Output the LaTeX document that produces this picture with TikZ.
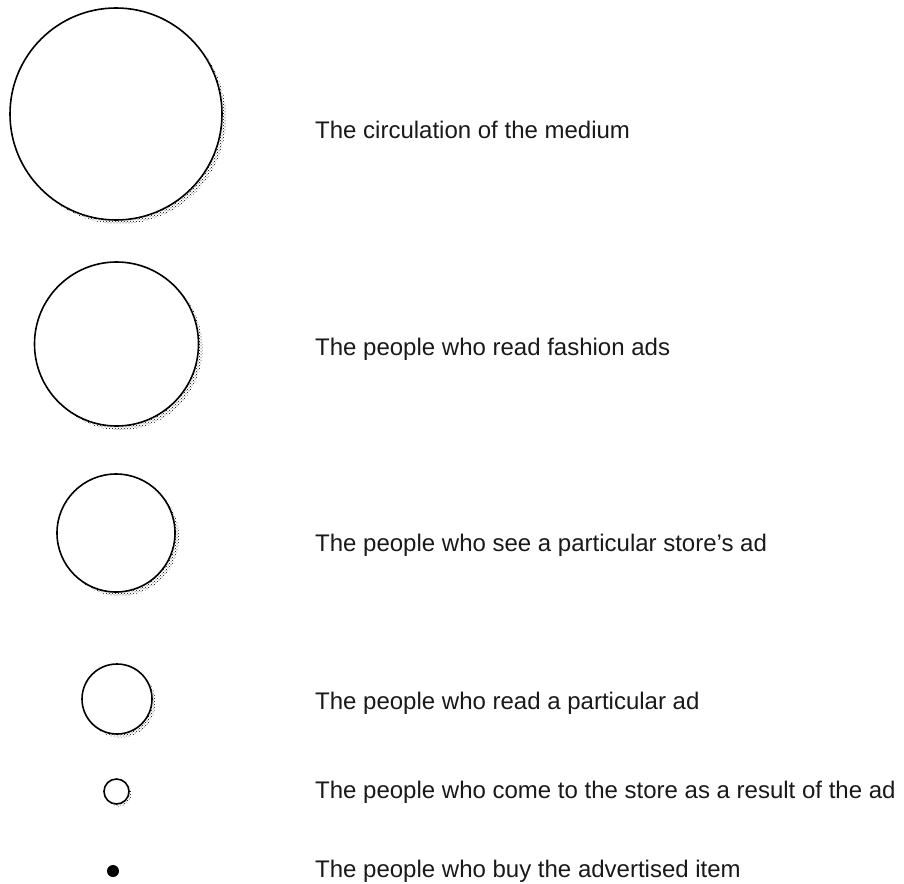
\documentclass[tikz,border=0pt]{standalone}
\usepackage{fontspec}
\setmainfont{Liberation Sans}
\usetikzlibrary{positioning,patterns}

\begin{document}
\begin{tikzpicture}[
  x=1pt, y=-1pt,
  disc/.style={circle, inner sep=0pt, minimum size=#1},
  ring/.style={draw=black, line width=1.6pt, fill=white},
  halo/.style={pattern=crosshatch dots, pattern color=black},
  lab/.style={anchor=base west, inner sep=0pt, text=black!90,
    font=\fontsize{24}{28}\selectfont}
]
\useasboundingbox (0,0) rectangle (904,883);

% audience circles, shadow first
\node[halo, disc=212pt] (s1) at (120,118) {};
\node[ring, disc=212pt] (c1) at (116,114) {};
\node[halo, disc=164pt] (s2) at (120.5,348) {};
\node[ring, disc=164pt] (c2) at (116.5,344) {};
\node[halo, disc=118pt] (s3) at (120,537) {};
\node[ring, disc=118pt] (c3) at (116,533) {};
\node[halo, disc=70pt] (s4) at (120.5,702.5) {};
\node[ring, disc=70pt] (c4) at (117,699) {};
\node[halo, disc=25pt] (s5) at (119,794) {};
\node[ring, disc=25pt] (c5) at (116.5,791.5) {};
\node[fill=black, disc=12pt] (c6) at (113,871) {};

% labels
\node[lab] (t1) at (315,138) {The circulation of the medium};
\node[lab] (t2) at (315,355) {The people who read fashion ads};
\node[lab] (t3) at (315,551) {The people who see a particular store's ad};
\node[lab] (t4) at (315,709) {The people who read a particular ad};
\node[lab] (t5) at (315,798) {The people who come to the store as a result of the ad};
\node[lab] (t6) at (315,877) {The people who buy the advertised item};

\end{tikzpicture}
\end{document}
